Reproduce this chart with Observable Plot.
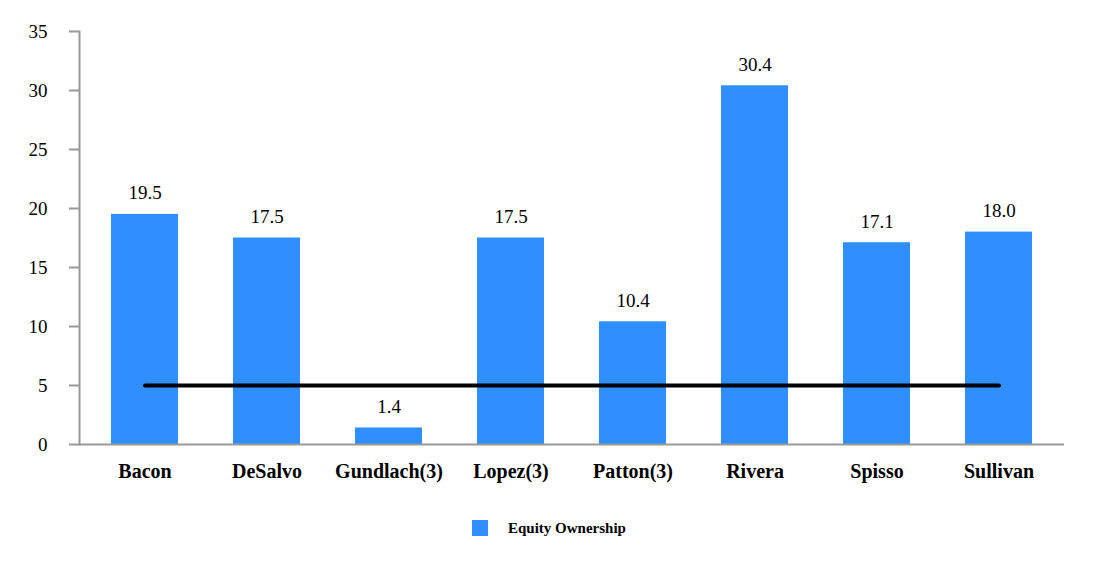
<!DOCTYPE html>
<html>
<head>
<meta charset="utf-8">
<script src="https://cdn.jsdelivr.net/npm/d3@7"></script>
<script src="https://cdn.jsdelivr.net/npm/@observablehq/plot@0.6"></script>
<style>
  html, body { margin: 0; padding: 0; background: #fff; }
  #chart { width: 1094px; }
  #chart svg text { font-family: "Liberation Serif", "Times New Roman", serif; }
  .legend { display: flex; align-items: center; height: 30px; margin-top: 13px; padding-left: 472px;
    font-family: "Liberation Serif", "Times New Roman", serif; font-weight: bold; font-size: 15px; color: #000; }
  .legend .sw { width: 16px; height: 16px; background: #308FFF; margin-right: 20px; }
</style>
</head>
<body>
<div id="chart"></div>
<script>
const names = ["Bacon", "DeSalvo", "Gundlach(3)", "Lopez(3)", "Patton(3)", "Rivera", "Spisso", "Sullivan"];
const equity = [19.5, 17.5, 1.4, 17.5, 10.4, 30.4, 17.1, 18.0];
const benchmark = 5;
const yTicks = [0, 5, 10, 15, 20, 25, 30, 35];

const rows = names.map((n, i) => ({name: n, value: equity[i]}));
const lineRows = [{name: names[0], v: benchmark}, {name: names[names.length - 1], v: benchmark}];
const serif = "'Liberation Serif', 'Times New Roman', serif";

const plot = Plot.plot({
  width: 1094,
  height: 500,
  marginLeft: 79,
  marginRight: 30,
  marginTop: 31,
  marginBottom: 56,
  style: {fontFamily: serif, background: "#fff", color: "#000"},
  x: {domain: names, paddingInner: 0.45, paddingOuter: 0.24, label: null},
  y: {domain: [0, 35], ticks: yTicks, label: null},
  marks: [
    Plot.barY(rows, {x: "name", y: "value", fill: "#308FFF"}),
    Plot.text(rows, {x: "name", y: "value", text: d => d.value.toFixed(1), dy: -21, fontSize: 19, fontFamily: serif, fill: "#000"}),
    Plot.line(lineRows, {x: "name", y: "v", stroke: "#000", strokeWidth: 4}),
    Plot.axisY({ticks: yTicks, tickSize: 10, tickPadding: 22, fontSize: 19, fontFamily: serif, stroke: "#999", strokeWidth: 2, color: "#000", label: null}),
    Plot.axisX({tickSize: 0, tickPadding: 19, fontSize: 20, fontWeight: "bold", fontFamily: serif, label: null}),
    Plot.ruleY([0], {stroke: "#999", strokeWidth: 2}),
    Plot.frame({anchor: "left", stroke: "#999", strokeWidth: 2})
  ]
});
document.getElementById("chart").appendChild(plot);

const legend = document.createElement("div");
legend.className = "legend";
legend.innerHTML = '<span class="sw"></span><span>Equity Ownership</span>';
document.getElementById("chart").appendChild(legend);
</script>
</body>
</html>
